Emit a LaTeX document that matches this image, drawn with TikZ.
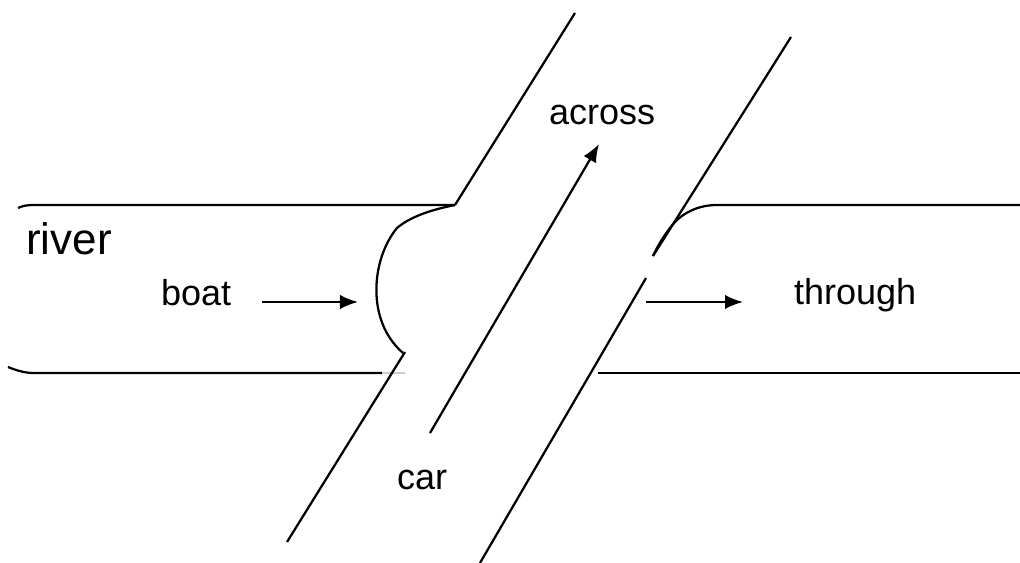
\documentclass[tikz,border=0pt]{standalone}
\usepackage{fontspec}
\setmainfont{Liberation Sans}
\usepackage{tikz}
\usetikzlibrary{arrows.meta, positioning}

\begin{document}
\begin{tikzpicture}[x=0.025cm, y=-0.025cm, line width=1.6pt,
		lbl/.style={inner sep=0pt, anchor=base west, font=\fontsize{25.6}{30}\selectfont},
		arr/.style={-{Latex[length=0.45cm, width=0.36cm]}}]
			\useasboundingbox (0,0) rectangle (1020,563);
			% river, left bank
			\draw (18,208) .. controls (22,206) and (27,205) .. (33,205) -- (455,205);
			\draw (8,367) .. controls (15,370) and (25,373) .. (33,373) -- (382,373);
			\draw[gray!40] (382,373) -- (405,373);
			\draw (455,205) .. controls (430,210) and (410,217) .. (397,228)
				.. controls (372,258) and (365,320) .. (403,353);
			% river, right bank
			\draw (1020,205) -- (717,205) .. controls (697,205) and (680,214) .. (670,228)
				.. controls (663,237) and (657,247) .. (653,256);
			\draw (598,373) -- (1020,373);
			% road
			\draw (575,13) -- (455,205);
			\draw (405,352) -- (287,542);
			\draw (791,37) -- (653,256);
			\draw (646,278) -- (480,563);
			% labels
			\node[lbl, font=\fontsize{31.3}{36}\selectfont] (river) at (25,255) {river};
			\node[lbl] (boat) at (160,306) {boat};
			\node[lbl] (across) at (548,125) {across};
			\node[lbl] (car) at (396,490) {car};
			\node[lbl] (through) at (793,305) {through};
			% arrows
			\coordinate (boatfrom) at (262,302);
			\coordinate (boatto) at (358,302);
			\coordinate (carfrom) at (430,433);
			\coordinate (carto) at (599,144);
			\coordinate (thrufrom) at (646,302);
			\coordinate (thruto) at (743,302);
			\draw[arr] (boatfrom) -- (boatto);
			\draw[arr] (carfrom) -- (carto);
			\draw[arr] (thrufrom) -- (thruto);
		\end{tikzpicture}
\end{document}
